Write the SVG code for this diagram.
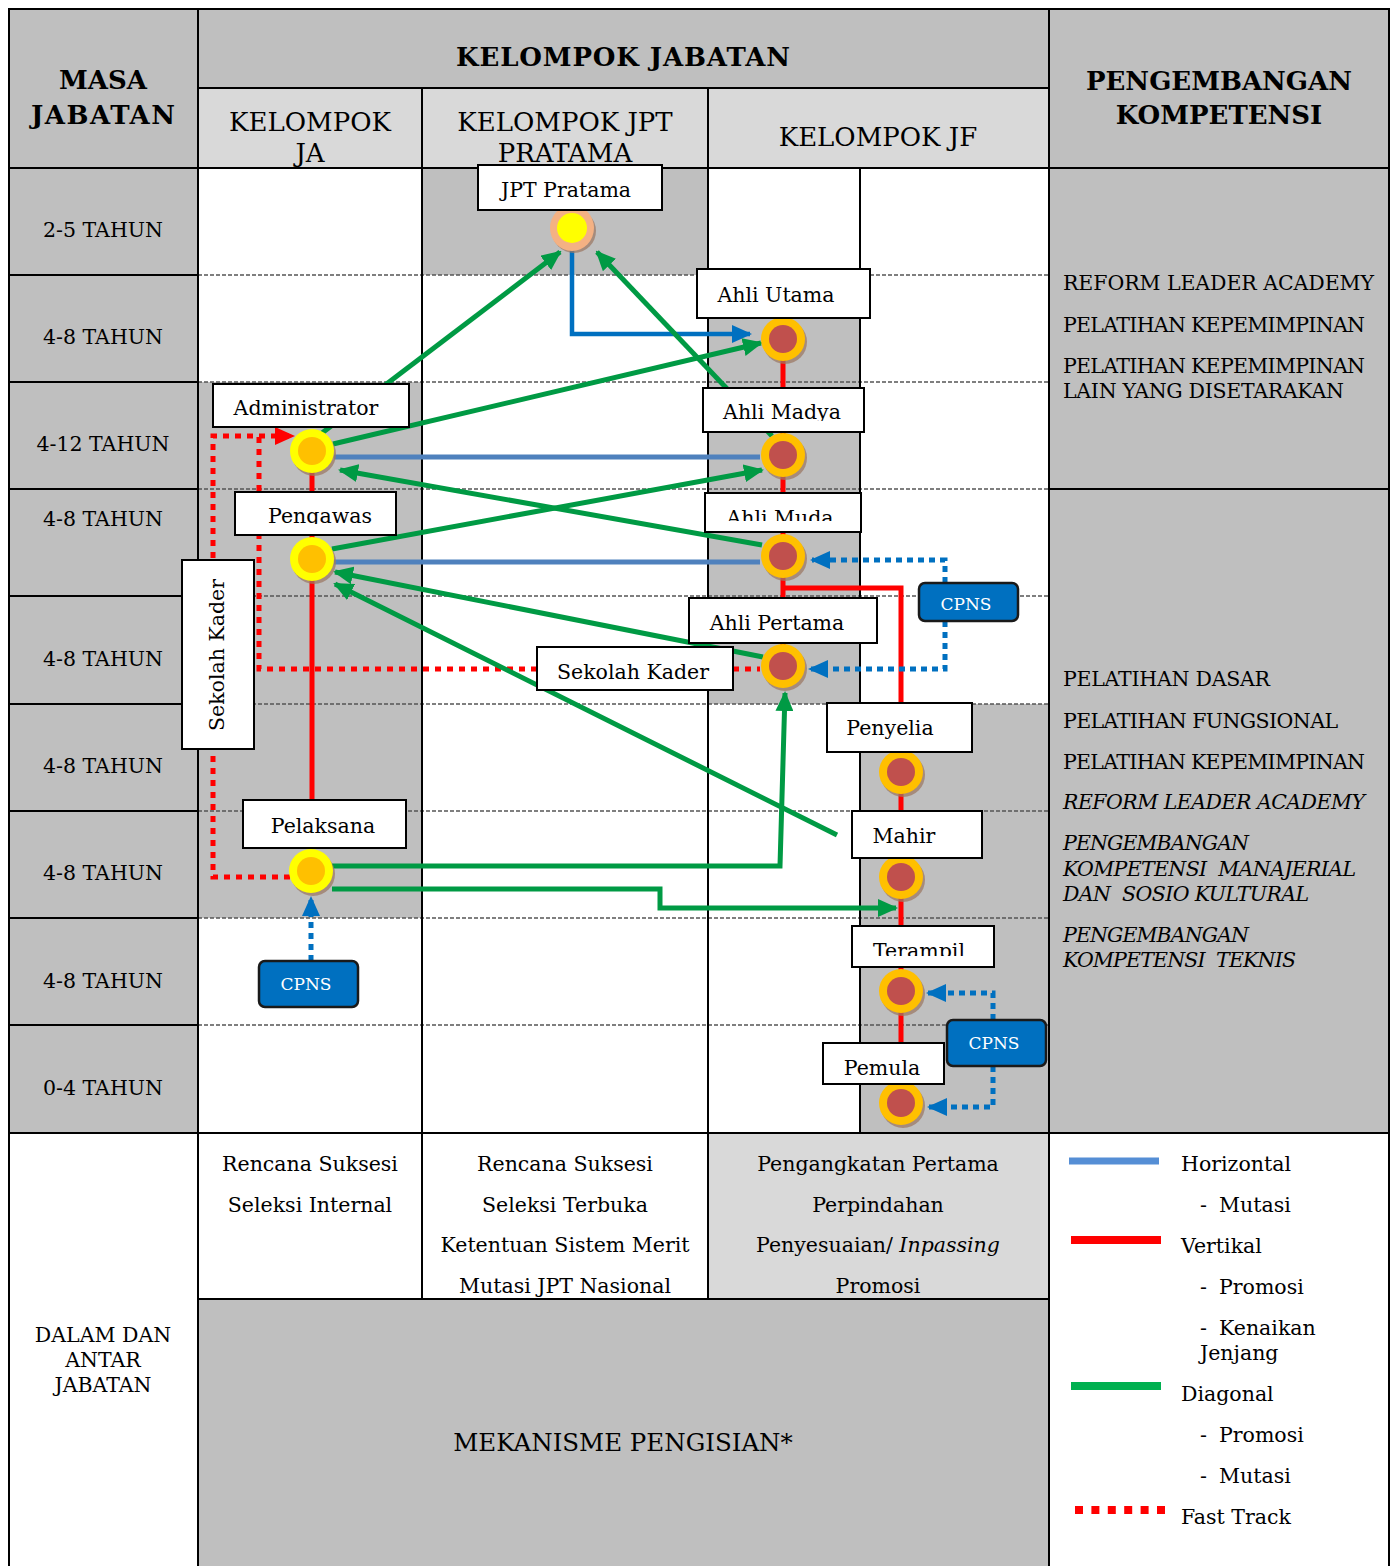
<svg xmlns="http://www.w3.org/2000/svg" width="1391" height="1566" viewBox="0 0 1391 1566">
<style>
.t{font-family:"DejaVu Serif","Liberation Serif",serif;font-size:20.5px;fill:#000}
.c{text-anchor:middle}
.hb{font-weight:bold;font-size:26px}
.hs{font-size:26px}
.it{font-style:italic}
.cp{fill:#fff;font-size:17px;text-anchor:middle}
.grid{stroke:#000;stroke-width:2;fill:none}
.dash{stroke:#555;stroke-width:1.5;stroke-dasharray:4 2;fill:none}
.box{fill:#fff;stroke:#000;stroke-width:2}
.cpns{fill:#0070C0;stroke:#1a1a1a;stroke-width:2.5}
.gr{stroke:#009A44;stroke-width:5;fill:none;marker-end:url(#arrG)}
.bl{stroke:#0070C0;stroke-width:4.5;fill:none}
.hz{stroke:#4F81BD;stroke-width:5;fill:none}
.rd{stroke:#FF0000;stroke-width:5;fill:none}
.rdd{stroke:#FF0000;stroke-width:5;stroke-dasharray:6 6;fill:none}
.bld{stroke:#0070C0;stroke-width:5;stroke-dasharray:6 5;fill:none;marker-end:url(#arrB)}
.sh{fill:#9C7A66;opacity:.75}
</style>
<defs>
<marker id="arrG" markerUnits="userSpaceOnUse" markerWidth="20" markerHeight="18" refX="18" refY="9" orient="auto"><path d="M0,0 L20,9 L0,18 z" fill="#009A44"/></marker>
<marker id="arrB" markerUnits="userSpaceOnUse" markerWidth="20" markerHeight="18" refX="18" refY="9" orient="auto"><path d="M0,0 L20,9 L0,18 z" fill="#0070C0"/></marker>
<marker id="arrR" markerUnits="userSpaceOnUse" markerWidth="20" markerHeight="18" refX="18" refY="9" orient="auto"><path d="M0,0 L20,9 L0,18 z" fill="#FF0000"/></marker>
<clipPath id="clMuda"><rect x="700" y="490" width="170" height="31"/></clipPath>
<clipPath id="clTer"><rect x="850" y="920" width="150" height="36"/></clipPath>
<clipPath id="clPeng"><rect x="230" y="490" width="170" height="34"/></clipPath>
<clipPath id="clMad"><rect x="700" y="385" width="170" height="36"/></clipPath>
</defs>

<g id="table">
<rect x="9" y="9" width="1380" height="1557" fill="#fff"/>
<rect x="9" y="9" width="189" height="1124" fill="#BFBFBF"/>
<rect x="198" y="9" width="851" height="79" fill="#BFBFBF"/>
<rect x="198" y="88" width="851" height="80" fill="#D9D9D9"/>
<rect x="1049" y="9" width="340" height="1124" fill="#BFBFBF"/>
<rect x="198" y="382" width="224" height="536" fill="#BFBFBF"/>
<rect x="422" y="168" width="286" height="107" fill="#BFBFBF"/>
<rect x="708" y="275" width="152" height="429" fill="#BFBFBF"/>
<rect x="860" y="704" width="189" height="429" fill="#BFBFBF"/>
<rect x="708" y="1133" width="341" height="166" fill="#D9D9D9"/>
<rect x="198" y="1299" width="851" height="267" fill="#BFBFBF"/>
<path class="dash" d="M198,275H1049M198,382H1049M198,489H1049M198,596H1049M198,704H1049M198,811H1049M198,918H1049M198,1025H1049"/>
<path class="grid" d="M9,275H198M9,382H198M9,489H198M9,596H198M9,704H198M9,811H198M9,918H198M9,1025H198M1049,489H1389"/>
<path class="grid" d="M198,88H1049M9,168H1389M9,1133H1389M198,1299H1049"/>
<path class="grid" d="M198,9V1566M422,88V1299M708,88V1299M860,168V1133M1049,9V1566"/>
<rect x="9" y="9" width="1380" height="1560" class="grid"/>
</g>

<g id="header-text">
<text class="t hb c" x="103" y="89">MASA</text>
<text class="t hb c" x="103" y="124" textLength="144">JABATAN</text>
<text class="t hb c" x="623" y="66" textLength="334">KELOMPOK JABATAN</text>
<text class="t hb c" x="1219" y="90">PENGEMBANGAN</text>
<text class="t hb c" x="1219" y="124">KOMPETENSI</text>
<text class="t hs c" x="310" y="131">KELOMPOK</text>
<text class="t hs c" x="310" y="162">JA</text>
<text class="t hs c" x="565" y="131">KELOMPOK JPT</text>
<text class="t hs c" x="565" y="162">PRATAMA</text>
<text class="t hs c" x="878" y="146">KELOMPOK JF</text>
</g>

<g id="masa-labels">
<text class="t c" x="103" y="237">2-5 TAHUN</text>
<text class="t c" x="103" y="344">4-8 TAHUN</text>
<text class="t c" x="103" y="451">4-12 TAHUN</text>
<text class="t c" x="103" y="526">4-8 TAHUN</text>
<text class="t c" x="103" y="666">4-8 TAHUN</text>
<text class="t c" x="103" y="773">4-8 TAHUN</text>
<text class="t c" x="103" y="880">4-8 TAHUN</text>
<text class="t c" x="103" y="988">4-8 TAHUN</text>
<text class="t c" x="103" y="1095">0-4 TAHUN</text>
<text class="t c" x="103" y="1342">DALAM DAN</text>
<text class="t c" x="103" y="1367">ANTAR</text>
<text class="t c" x="103" y="1392">JABATAN</text>
</g>

<g id="kompetensi-text">
<text class="t" x="1063" y="290" textLength="311">REFORM LEADER ACADEMY</text>
<text class="t" x="1063" y="332" textLength="302">PELATIHAN KEPEMIMPINAN</text>
<text class="t" x="1063" y="373" textLength="302">PELATIHAN KEPEMIMPINAN</text>
<text class="t" x="1063" y="398" textLength="281">LAIN YANG DISETARAKAN</text>
<text class="t" x="1063" y="686" textLength="207">PELATIHAN DASAR</text>
<text class="t" x="1063" y="728" textLength="275">PELATIHAN FUNGSIONAL</text>
<text class="t" x="1063" y="769" textLength="302">PELATIHAN KEPEMIMPINAN</text>
<text class="t it" x="1063" y="809" textLength="302">REFORM LEADER ACADEMY</text>
<text class="t it" x="1063" y="850" textLength="186">PENGEMBANGAN</text>
<text class="t it" x="1063" y="876" textLength="293" xml:space="preserve">KOMPETENSI  MANAJERIAL</text>
<text class="t it" x="1063" y="901" textLength="246" xml:space="preserve">DAN  SOSIO KULTURAL</text>
<text class="t it" x="1063" y="942" textLength="186">PENGEMBANGAN</text>
<text class="t it" x="1063" y="967" textLength="233" xml:space="preserve">KOMPETENSI  TEKNIS</text>
</g>

<g id="mekanisme-text">
<text class="t c" x="310" y="1171">Rencana Suksesi</text>
<text class="t c" x="310" y="1212">Seleksi Internal</text>
<text class="t c" x="565" y="1171">Rencana Suksesi</text>
<text class="t c" x="565" y="1212">Seleksi Terbuka</text>
<text class="t c" x="565" y="1252">Ketentuan Sistem Merit</text>
<text class="t c" x="565" y="1293">Mutasi JPT Nasional</text>
<text class="t c" x="878" y="1171">Pengangkatan Pertama</text>
<text class="t c" x="878" y="1212">Perpindahan</text>
<text class="t c" x="878" y="1252">Penyesuaian/ <tspan class="it">Inpassing</tspan></text>
<text class="t c" x="878" y="1293">Promosi</text>
<text class="t c" x="623" y="1451" style="font-size:24.5px">MEKANISME PENGISIAN*</text>
</g>

<g id="legend">
<line x1="1069" y1="1161" x2="1159" y2="1161" stroke="#558ED5" stroke-width="7"/>
<text class="t" x="1181" y="1171">Horizontal</text>
<text class="t" y="1212"><tspan x="1200">-</tspan><tspan x="1219">Mutasi</tspan></text>
<line x1="1071" y1="1240" x2="1161" y2="1240" stroke="#FF0000" stroke-width="8"/>
<text class="t" x="1181" y="1253">Vertikal</text>
<text class="t" y="1294"><tspan x="1200">-</tspan><tspan x="1219">Promosi</tspan></text>
<text class="t" y="1335"><tspan x="1200">-</tspan><tspan x="1219">Kenaikan</tspan></text>
<text class="t" x="1200" y="1360">Jenjang</text>
<line x1="1071" y1="1386" x2="1161" y2="1386" stroke="#00B050" stroke-width="8"/>
<text class="t" x="1181" y="1401">Diagonal</text>
<text class="t" y="1442"><tspan x="1200">-</tspan><tspan x="1219">Promosi</tspan></text>
<text class="t" y="1483"><tspan x="1200">-</tspan><tspan x="1219">Mutasi</tspan></text>
<line x1="1075" y1="1510" x2="1165" y2="1510" stroke="#FF0000" stroke-width="8" stroke-dasharray="8 8.4"/>
<text class="t" x="1181" y="1524">Fast Track</text>
</g>

<g id="connectors">
<path class="hz" d="M334,457H760M334,562H760"/>
<path class="rd" d="M312,451V800M783,339V666M783,588H901V703M901,772V1103"/>
<path class="rdd" d="M537,669H259V436M733,669H760"/>
<path class="rdd" d="M290,877H213V436H293" style="marker-end:url(#arrR)"/>
<path class="bl" d="M572,250V334H750" style="marker-end:url(#arrB)"/>
<path class="gr" d="M322,433L560,252"/>
<path class="gr" d="M772,436L597,252"/>
<path class="gr" d="M333,444L761,343"/>
<path class="gr" d="M762,545L340,470"/>
<path class="gr" d="M332,549L762,470"/>
<path class="gr" d="M763,657L335,572"/>
<path class="gr" d="M837,835L335,584"/>
<path class="gr" d="M332,866H780L785,693"/>
<path class="gr" d="M332,889H660V908H896"/>
<path class="bld" d="M311,961V898"/>
<path class="bld" d="M945,583V560H812"/>
<path class="bld" d="M945,621V669H810"/>
<path class="bld" d="M993,1020V993H928"/>
<path class="bld" d="M993,1066V1107H929"/>
</g>

<g id="node-jpt-pratama">
<circle class="sh" cx="574" cy="231" r="22"/>
<ellipse cx="572" cy="228" rx="22" ry="23" fill="#F4B183"/>
<circle cx="572" cy="228" r="15" fill="#FFFF00"/>
<rect class="box" x="478" y="165" width="184" height="45"/>
<text class="t c" x="566" y="197">JPT Pratama</text>
</g>

<g id="node-administrator">
<circle class="sh" cx="314" cy="454" r="22"/>
<circle cx="312" cy="451" r="22" fill="#FFFF00"/>
<circle cx="312" cy="451" r="14" fill="#FFC000"/>
<rect class="box" x="213" y="384" width="196" height="43"/>
<text class="t c" x="306" y="415">Administrator</text>
</g>

<g id="node-pengawas">
<circle class="sh" cx="314" cy="562" r="22"/>
<circle cx="312" cy="559" r="22" fill="#FFFF00"/>
<circle cx="312" cy="559" r="14" fill="#FFC000"/>
<rect class="box" x="235" y="492" width="161" height="43"/>
<text class="t c" x="320" y="523" clip-path="url(#clPeng)">Pengawas</text>
</g>

<g id="node-pelaksana">
<circle class="sh" cx="313" cy="874" r="22"/>
<circle cx="311" cy="871" r="22" fill="#FFFF00"/>
<circle cx="311" cy="871" r="14" fill="#FFC000"/>
<rect class="box" x="243" y="800" width="163" height="48"/>
<text class="t c" x="323" y="833">Pelaksana</text>
</g>

<g id="node-sekolah-kader-v">
<rect class="box" x="182" y="560" width="72" height="189"/>
<text class="t c" transform="translate(224,655) rotate(-90)">Sekolah Kader</text>
</g>

<g id="node-sekolah-kader">
<rect class="box" x="537" y="647" width="196" height="43"/>
<text class="t c" x="633" y="679">Sekolah Kader</text>
</g>

<g id="node-ahli-utama">
<circle class="sh" cx="785" cy="342" r="22"/>
<circle cx="783" cy="339" r="22" fill="#FFC000"/>
<circle cx="783" cy="339" r="14" fill="#C0504D"/>
<rect class="box" x="697" y="269" width="173" height="49"/>
<text class="t c" x="776" y="302">Ahli Utama</text>
</g>

<g id="node-ahli-madya">
<circle class="sh" cx="785" cy="458" r="22"/>
<circle cx="783" cy="455" r="22" fill="#FFC000"/>
<circle cx="783" cy="455" r="14" fill="#C0504D"/>
<rect class="box" x="703" y="388" width="161" height="44"/>
<text class="t c" x="782" y="419" clip-path="url(#clMad)">Ahli Madya</text>
</g>

<g id="node-ahli-muda">
<circle class="sh" cx="785" cy="559" r="22"/>
<circle cx="783" cy="556" r="22" fill="#FFC000"/>
<circle cx="783" cy="556" r="14" fill="#C0504D"/>
<rect class="box" x="705" y="493" width="156" height="39"/>
<text class="t c" x="780" y="525" clip-path="url(#clMuda)">Ahli Muda</text>
</g>

<g id="node-ahli-pertama">
<circle class="sh" cx="785" cy="669" r="22"/>
<circle cx="783" cy="666" r="22" fill="#FFC000"/>
<circle cx="783" cy="666" r="14" fill="#C0504D"/>
<rect class="box" x="689" y="598" width="188" height="45"/>
<text class="t c" x="777" y="630">Ahli Pertama</text>
</g>

<g id="node-penyelia">
<circle class="sh" cx="903" cy="775" r="22"/>
<circle cx="901" cy="772" r="22" fill="#FFC000"/>
<circle cx="901" cy="772" r="14" fill="#C0504D"/>
<rect class="box" x="827" y="703" width="145" height="49"/>
<text class="t c" x="890" y="735">Penyelia</text>
</g>

<g id="node-mahir">
<circle class="sh" cx="903" cy="880" r="22"/>
<circle cx="901" cy="877" r="22" fill="#FFC000"/>
<circle cx="901" cy="877" r="14" fill="#C0504D"/>
<rect class="box" x="852" y="811" width="130" height="47"/>
<text class="t c" x="904" y="843">Mahir</text>
</g>

<g id="node-terampil">
<circle class="sh" cx="903" cy="994" r="22"/>
<circle cx="901" cy="991" r="22" fill="#FFC000"/>
<circle cx="901" cy="991" r="14" fill="#C0504D"/>
<rect class="box" x="852" y="926" width="142" height="41"/>
<text class="t c" x="919" y="958" clip-path="url(#clTer)">Terampil</text>
</g>

<g id="node-pemula">
<circle class="sh" cx="903" cy="1106" r="22"/>
<circle cx="901" cy="1103" r="22" fill="#FFC000"/>
<circle cx="901" cy="1103" r="14" fill="#C0504D"/>
<rect class="box" x="823" y="1043" width="121" height="41"/>
<text class="t c" x="882" y="1075">Pemula</text>
</g>

<g id="node-cpns-ja">
<rect class="cpns" x="259" y="961" width="99" height="46" rx="6"/>
<text class="t cp" x="306" y="990">CPNS</text>
</g>
<g id="node-cpns-jf-ahli">
<rect class="cpns" x="919" y="583" width="99" height="38" rx="6"/>
<text class="t cp" x="966" y="610">CPNS</text>
</g>
<g id="node-cpns-jf-terampil">
<rect class="cpns" x="947" y="1020" width="99" height="46" rx="6"/>
<text class="t cp" x="994" y="1049">CPNS</text>
</g>
</svg>
